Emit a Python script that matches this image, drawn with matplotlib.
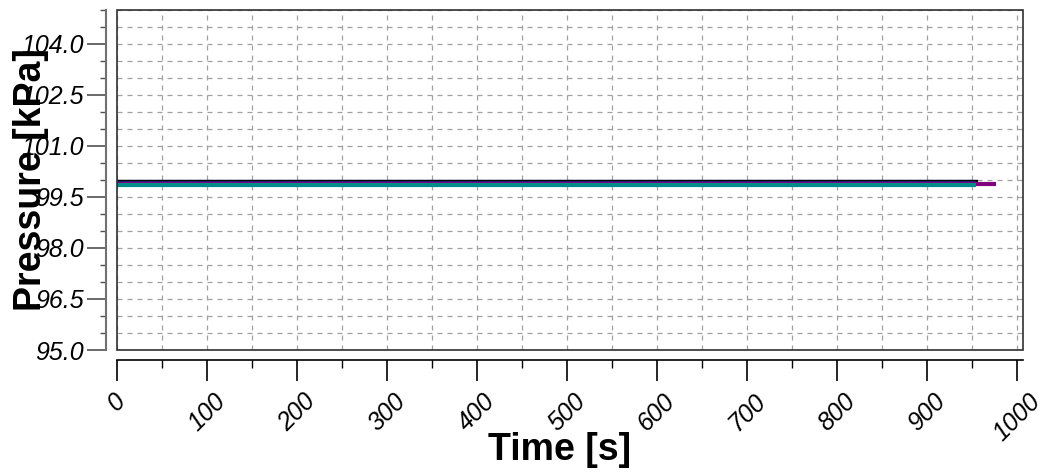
import matplotlib
matplotlib.use("Agg")
import matplotlib.pyplot as plt
from matplotlib.ticker import MultipleLocator, FixedLocator, FormatStrFormatter
from matplotlib.patches import Rectangle

# Data
time_black = [0, 100, 200, 300, 400, 500, 600, 700, 800, 900, 957]
p_black = [99.93, 99.93, 99.93, 99.93, 99.93, 99.93, 99.93, 99.93, 99.93, 99.93, 99.93]
time_navy = [0, 100, 200, 300, 400, 500, 600, 700, 800, 900, 955]
p_navy = [99.91, 99.91, 99.91, 99.91, 99.91, 99.91, 99.91, 99.91, 99.91, 99.91, 99.91]
time_purple = [0, 100, 200, 300, 400, 500, 600, 700, 800, 900, 977]
p_purple = [99.89, 99.89, 99.89, 99.89, 99.89, 99.89, 99.89, 99.89, 99.89, 99.89, 99.89]
time_teal = [0, 100, 200, 300, 400, 500, 600, 700, 800, 900, 955]
p_teal = [99.85, 99.85, 99.85, 99.85, 99.85, 99.85, 99.85, 99.85, 99.85, 99.85, 99.85]

y_ticks = [95.0, 96.5, 98.0, 99.5, 101.0, 102.5, 104.0]
x_ticks = [0, 100, 200, 300, 400, 500, 600, 700, 800, 900, 1000]

x_label = "Time [s]"
y_label = "Pressure [kPa]"

plt.rcParams['font.family'] = ['Liberation Sans', 'DejaVu Sans']

fig = plt.figure(figsize=(10.38, 4.73), dpi=100)
ax = fig.add_axes([117/1038, 1-350/473, 906/1038, 340/473])

ax.plot(time_black, p_black, color='black', lw=3.2, solid_capstyle='butt')
ax.plot(time_navy, p_navy, color='#1a1a6e', lw=3, solid_capstyle='butt')
ax.plot(time_purple, p_purple, color='#800080', lw=3, solid_capstyle='butt')
ax.plot(time_teal, p_teal, color='#008b8b', lw=3, solid_capstyle='butt')

ax.set_xlim(0, 1007)
ax.set_ylim(95, 105)

ax.xaxis.set_major_locator(FixedLocator(x_ticks))
ax.xaxis.set_minor_locator(MultipleLocator(50))
ax.yaxis.set_major_locator(FixedLocator(y_ticks))
ax.yaxis.set_minor_locator(MultipleLocator(0.5))
ax.yaxis.set_major_formatter(FormatStrFormatter('%.1f'))

ax.grid(True, which='both', color='#a0a0a0', linestyle=(0, (4, 4)), lw=0.9)
ax.set_axisbelow(True)

ax.spines['left'].set_position(('outward', 8))
ax.spines['bottom'].set_position(('outward', 7))
ax.spines['left'].set_color('#707070')
ax.spines['left'].set_linewidth(1.5)
ax.spines['bottom'].set_color('black')
ax.spines['bottom'].set_linewidth(1.2)
ax.spines['top'].set_visible(False)
ax.spines['right'].set_visible(False)

frame = Rectangle((0, 0), 1, 1, transform=ax.transAxes, fill=False,
                  edgecolor='#303030', lw=1.2, clip_on=False, zorder=5)
ax.add_patch(frame)

ax.tick_params(axis='y', which='major', direction='out', length=14, width=1.2,
               color='#505050', pad=2, labelsize=18)
ax.tick_params(axis='y', which='minor', direction='out', length=4, width=1.0,
               color='#505050')
ax.tick_params(axis='x', which='major', direction='out', length=15, width=1.2,
               color='black', pad=6, labelsize=18)
ax.tick_params(axis='x', which='minor', direction='out', length=6, width=1.0,
               color='black')

for lab in ax.get_yticklabels():
    lab.set_fontstyle('italic')
for lab in ax.get_xticklabels():
    lab.set_fontstyle('italic')
    lab.set_rotation(45)
    lab.set_ha('center')

ax.set_xlabel(x_label, fontsize=27, fontweight='bold')
ax.set_ylabel(y_label, fontsize=27, fontweight='bold')
ax.xaxis.set_label_coords((560-117)/906, -0.24)
ax.yaxis.set_label_coords(-0.075, 0.5)

fig.savefig("out.png", dpi=100)
